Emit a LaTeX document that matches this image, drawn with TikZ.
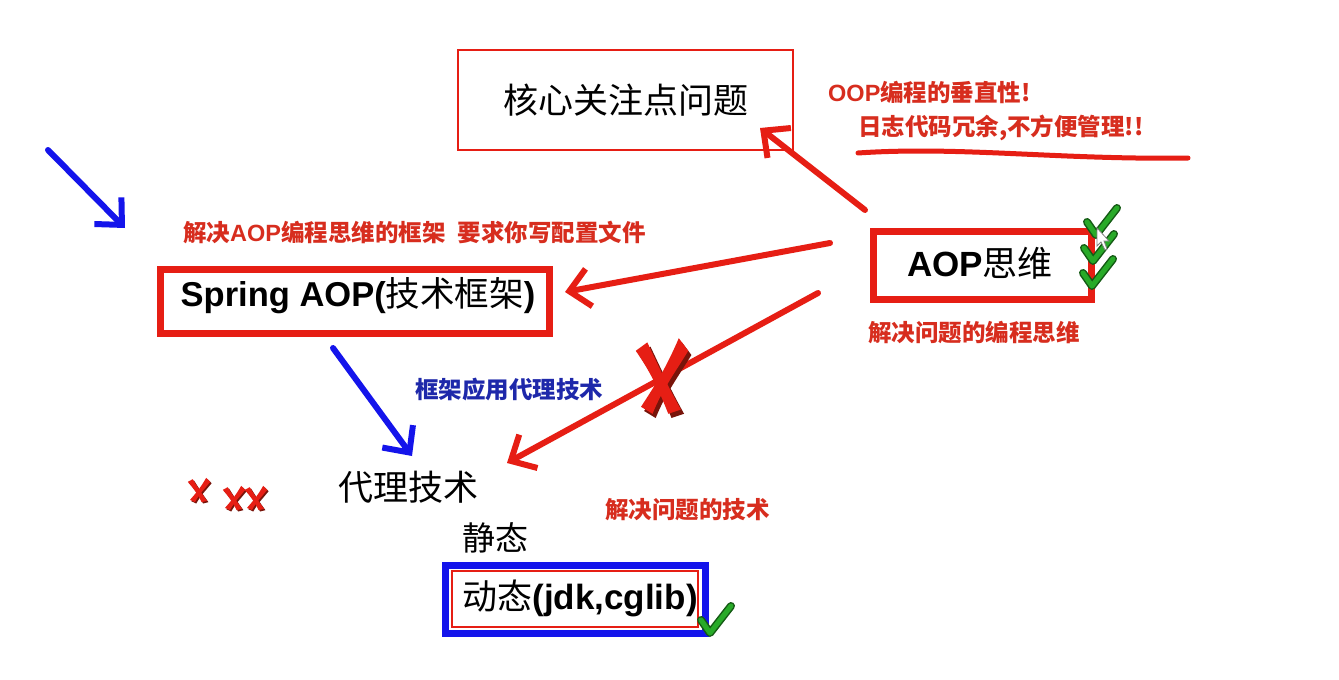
\documentclass[tikz,border=0pt]{standalone}
\usepackage{fontspec}
\setmainfont{Liberation Sans}
\newfontfamily\cjk{Noto Sans CJK SC}
\usetikzlibrary{arrows.meta,calc}
\definecolor{pred}{RGB}{230,30,20}
\definecolor{lred}{RGB}{215,45,30}
\definecolor{pblue}{RGB}{20,20,235}
\definecolor{lblue}{RGB}{30,40,170}
\definecolor{pgreen}{RGB}{40,170,40}
\definecolor{dgreen}{RGB}{20,90,20}
\definecolor{xdark}{RGB}{120,20,10}
\newcommand{\fs}[1]{\fontsize{#1}{#1}\selectfont}
\tikzset{
  thinbox/.style={draw=pred,line width=2.5pt,minimum width=335pt,minimum height=100pt},
  thickbox/.style={draw=pred,line width=7pt},
  bigtxt/.style={font=\fs{34}\cjk,text=black},
  lbl/.style={font=\fs{23.5}\cjk\bfseries,text=lred,anchor=west,inner sep=0pt},
  blbl/.style={font=\fs{23.5}\cjk\bfseries,text=lblue,anchor=west,inner sep=0pt},
  redarrow/.style={draw=pred,line width=6pt,line cap=round,-{Straight Barb[length=20pt,width=38pt,line width=6pt]}},
  bluearrow/.style={draw=pblue,line width=6pt,line cap=round,-{Straight Barb[length=20pt,width=38pt,line width=6pt]}},
  chk/.pic={
    \draw[dgreen,line width=8pt,line cap=round,line join=round] (-13,-2) -- (-4,11) -- (17,-16);
    \draw[pgreen,line width=5pt,line cap=round,line join=round] (-13,-2) -- (-4,11) -- (17,-16);
  },
  redx/.pic={
    \begin{scope}[shift={(3,3)}]
    \fill[xdark] (-14,-24) .. controls (-2,-5) and (4,5) .. (18,24) -- (6,27) .. controls (-4,8) and (-12,-4) .. (-25,-18) -- cycle;
    \fill[xdark] (16,-27) .. controls (4,-6) and (-6,6) .. (-20,22) -- (-9,27) .. controls (0,10) and (12,-2) .. (25,-18) -- cycle;
    \end{scope}
    \fill[pred] (-14,-24) .. controls (-2,-5) and (4,5) .. (18,24) -- (6,27) .. controls (-4,8) and (-12,-4) .. (-25,-18) -- cycle;
    \fill[pred] (16,-27) .. controls (4,-6) and (-6,6) .. (-20,22) -- (-9,27) .. controls (0,10) and (12,-2) .. (25,-18) -- cycle;
  }
}
\begin{document}
\begin{tikzpicture}[x=1pt,y=-1pt]
\useasboundingbox (0,0) rectangle (1339,680);
\fill[white] (0,0) rectangle (1339,680);

% boxes
\node[thinbox,bigtxt,font=\fs{35}\cjk] (core) at (625.5,100) {核心关注点问题};
\node[thickbox,minimum width=389pt,minimum height=64pt] (spring) at (355,301) {};
\node[font=\fs{34.5}\bfseries,text=black] (springtxt) at (358,296) {Spring AOP({\cjk\mdseries 技术框架})};
\node[thickbox,minimum width=218pt,minimum height=68pt] (aop) at (982.5,265) {};
\node[font=\fs{35}\bfseries,text=black] (aoptxt) at (980,263) {AOP{\cjk\mdseries 思维}};

\node[bigtxt,font=\fs{35}\cjk] (proxy) at (408,487) {代理技术};
\node[bigtxt,font=\fs{33}\cjk] (static) at (495,538) {静态};
\node[draw=pblue,line width=7pt,minimum width=260pt,minimum height=68pt] (dynout) at (575,599) {};
\node[draw=pred,line width=2pt,minimum width=246pt,minimum height=56pt] (dyn) at (575,599) {};
\node[font=\fs{35}\bfseries,text=black] (dyntxt) at (580,598) {{\cjk\mdseries 动态}(jdk,cglib)};

% labels
\node[lbl] (oop) at (828,92) {{\fontspec{Liberation Sans}\bfseries OOP}编程的垂直性!};
\node[lbl] (log) at (858,128) {日志代码冗余,不方便管理!!};
\node[lbl] (solveaop) at (183,232) {解决{\fontspec{Liberation Sans}\bfseries AOP}编程思维的框架\hspace{12pt}要求你写配置文件};
\node[lbl] (idea) at (868,333) {解决问题的编程思维};
\node[blbl] (apply) at (415,390) {框架应用代理技术};
\node[lbl] (tech) at (605,510) {解决问题的技术};

% underline
\coordinate (ul1) at (858,153);
\coordinate (ul2) at (1188,158);
\draw[pred,line width=5pt,line cap=round] (ul1) .. controls (960,146) and (1060,160) .. (ul2);

% arrows
\coordinate (b0) at (48,150);
\coordinate (b1) at (125,228);
\draw[bluearrow] (b0) -- (b1);

\coordinate (r1s) at (865,210);
\coordinate (r1e) at (760,128);
\draw[redarrow] (r1s) -- (r1e);

\coordinate (r2s) at (830,243);
\coordinate (r2e) at ($(spring.east)+(12,-9)$);
\draw[redarrow] (r2s) -- (r2e);

\coordinate (r3s) at (818,293);
\coordinate (r3e) at (507,463);
\draw[redarrow] (r3s) -- (r3e);

\coordinate (b2s) at (333,348);
\coordinate (b2e) at (412,456);
\draw[bluearrow] (b2s) -- (b2e);

% marks
\pic[xscale=1.05,yscale=1.4] at (662,376) {redx};
\pic[scale=0.45] at (199,490) {redx};
\pic[scale=0.45] at (234,498) {redx};
\pic[scale=0.45] at (256,498) {redx};

\pic at (1100,224) {chk};
\pic at (1097,250) {chk};
\pic at (1096,275) {chk};
\pic at (714,622) {chk};

% mouse cursor
\filldraw[fill=white,draw=gray,line width=0.8pt] (1097,228) -- (1097,246) -- (1101,242) -- (1105,250) -- (1107,249) -- (1104,241) -- (1109,241) -- cycle;
\end{tikzpicture}
\end{document}
